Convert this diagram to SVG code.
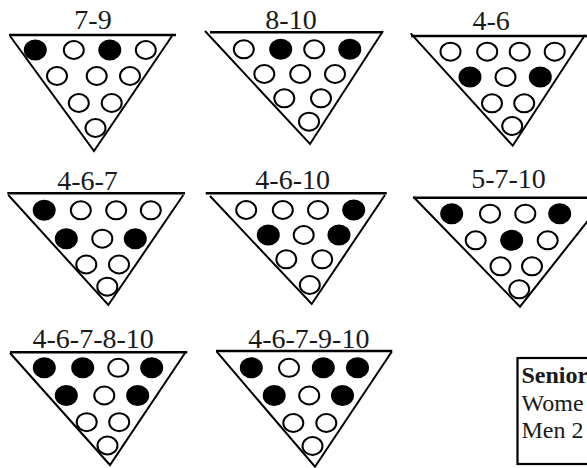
<svg xmlns="http://www.w3.org/2000/svg" width="587" height="468" viewBox="0 0 587 468">
<style>
.side{fill:none;stroke:#000;stroke-width:2;stroke-linejoin:miter}
.top{stroke:#000;stroke-width:2.4}
.o{fill:#fff;stroke:#000;stroke-width:2}
.f{fill:#000;stroke:#000;stroke-width:2}
.lbl{font-family:"Liberation Serif","Times New Roman",serif;font-size:28px;text-anchor:middle;fill:#1a1a1a}
.bx{font-family:"Liberation Serif","Times New Roman",serif;font-size:24px;fill:#1a1a1a}
</style>
<rect width="587" height="468" fill="#fff"/>
<g id="connectors"/>

<g id="t1">
<text class="lbl" x="93" y="29">7-9</text>
<line class="top" x1="9" y1="35" x2="176" y2="35"/>
<polyline class="side" points="10,36 94,151 172,36"/>
<ellipse class="f" cx="35.3" cy="50" rx="10.5" ry="9.5"/>
<ellipse class="o" cx="73.8" cy="50" rx="10" ry="9"/>
<ellipse class="f" cx="109.8" cy="50" rx="10.5" ry="9.5"/>
<ellipse class="o" cx="145.8" cy="50" rx="10" ry="9"/>
<ellipse class="o" cx="57" cy="76" rx="10" ry="9"/>
<ellipse class="o" cx="96.7" cy="76" rx="10" ry="9"/>
<ellipse class="o" cx="130" cy="76" rx="10" ry="9"/>
<ellipse class="o" cx="78.8" cy="103" rx="10" ry="9"/>
<ellipse class="o" cx="111.7" cy="103" rx="10" ry="9"/>
<ellipse class="o" cx="95.5" cy="128" rx="10" ry="9"/>
</g>

<g id="t2">
<text class="lbl" x="291" y="29">8-10</text>
<line class="top" x1="210" y1="32.3" x2="383" y2="32.3"/>
<polyline class="side" points="205,31 310,144 383,31"/>
<ellipse class="o" cx="243.8" cy="49.3" rx="10" ry="9"/>
<ellipse class="f" cx="280.7" cy="49.3" rx="10.5" ry="9.5"/>
<ellipse class="o" cx="314.2" cy="49.3" rx="10" ry="9"/>
<ellipse class="f" cx="349.8" cy="49.3" rx="10.5" ry="9.5"/>
<ellipse class="o" cx="264.3" cy="74" rx="10" ry="9"/>
<ellipse class="o" cx="300.2" cy="74" rx="10" ry="9"/>
<ellipse class="o" cx="335" cy="74" rx="10" ry="9"/>
<ellipse class="o" cx="284.3" cy="98.3" rx="10" ry="9"/>
<ellipse class="o" cx="321" cy="98.3" rx="10" ry="9"/>
<ellipse class="o" cx="309" cy="121.7" rx="10" ry="9"/>
</g>

<g id="t3">
<text class="lbl" x="491.2" y="30">4-6</text>
<line class="top" x1="411" y1="36" x2="587" y2="36"/>
<polyline class="side" points="410.7,33.3 512.7,145.7 585,35"/>
<ellipse class="o" cx="450.5" cy="51.7" rx="10" ry="9"/>
<ellipse class="o" cx="487.2" cy="51.7" rx="10" ry="9"/>
<ellipse class="o" cx="519.7" cy="51.7" rx="10" ry="9"/>
<ellipse class="o" cx="554.7" cy="51.7" rx="10" ry="9"/>
<ellipse class="f" cx="470" cy="77" rx="10.5" ry="9.5"/>
<ellipse class="o" cx="505.5" cy="77" rx="10" ry="9"/>
<ellipse class="f" cx="540.3" cy="77" rx="10.5" ry="9.5"/>
<ellipse class="o" cx="492" cy="103.3" rx="10" ry="9"/>
<ellipse class="o" cx="524.2" cy="103.3" rx="10" ry="9"/>
<ellipse class="o" cx="512.2" cy="126" rx="10" ry="9"/>
</g>

<g id="t4">
<text class="lbl" x="87.5" y="190">4-6-7</text>
<line class="top" x1="7.3" y1="193.3" x2="185" y2="193.3"/>
<polyline class="side" points="8.3,195 108.3,305 183.3,195"/>
<ellipse class="f" cx="44.2" cy="210.3" rx="10.5" ry="9.5"/>
<ellipse class="o" cx="80.8" cy="210.3" rx="10" ry="9"/>
<ellipse class="o" cx="116.2" cy="210.3" rx="10" ry="9"/>
<ellipse class="o" cx="150.8" cy="210.3" rx="10" ry="9"/>
<ellipse class="f" cx="66.3" cy="238.7" rx="10.5" ry="9.5"/>
<ellipse class="o" cx="102.3" cy="238.7" rx="10" ry="9"/>
<ellipse class="f" cx="135.3" cy="238.7" rx="10.5" ry="9.5"/>
<ellipse class="o" cx="86.3" cy="264.5" rx="10" ry="9"/>
<ellipse class="o" cx="119" cy="264.5" rx="10" ry="9"/>
<ellipse class="o" cx="107.3" cy="286.7" rx="10" ry="9"/>
</g>

<g id="t5">
<text class="lbl" x="292.7" y="189">4-6-10</text>
<line class="top" x1="205.7" y1="193.3" x2="386.7" y2="193.3"/>
<polyline class="side" points="210,196 311.7,304 385,195"/>
<ellipse class="o" cx="246.2" cy="210" rx="10" ry="9"/>
<ellipse class="o" cx="282.8" cy="210" rx="10" ry="9"/>
<ellipse class="o" cx="318" cy="210" rx="10" ry="9"/>
<ellipse class="f" cx="353.7" cy="210" rx="10.5" ry="9.5"/>
<ellipse class="f" cx="268.3" cy="235" rx="10.5" ry="9.5"/>
<ellipse class="o" cx="303.7" cy="235" rx="10" ry="9"/>
<ellipse class="f" cx="339" cy="235" rx="10.5" ry="9.5"/>
<ellipse class="o" cx="286.3" cy="259.3" rx="10" ry="9"/>
<ellipse class="o" cx="322.2" cy="259.3" rx="10" ry="9"/>
<ellipse class="o" cx="309.8" cy="285" rx="10" ry="9"/>
</g>

<g id="t6">
<text class="lbl" x="508.5" y="187.7">5-7-10</text>
<line class="top" x1="413.3" y1="197.7" x2="587" y2="197.7"/>
<polyline class="side" points="413.3,196.7 520,306.7 606,197.7"/>
<ellipse class="f" cx="451.7" cy="213.7" rx="10.5" ry="9.5"/>
<ellipse class="o" cx="490" cy="213.7" rx="10" ry="9"/>
<ellipse class="o" cx="525.3" cy="213.7" rx="10" ry="9"/>
<ellipse class="f" cx="559.7" cy="213.7" rx="10.5" ry="9.5"/>
<ellipse class="o" cx="475.7" cy="240.3" rx="10" ry="9"/>
<ellipse class="f" cx="511.7" cy="240.3" rx="10.5" ry="9.5"/>
<ellipse class="o" cx="547.7" cy="240.3" rx="10" ry="9"/>
<ellipse class="o" cx="500.5" cy="266.3" rx="10" ry="9"/>
<ellipse class="o" cx="532" cy="266.3" rx="10" ry="9"/>
<ellipse class="o" cx="519.2" cy="289.3" rx="10" ry="9"/>
</g>

<g id="t7">
<text class="lbl" x="93.2" y="348.3">4-6-7-8-10</text>
<line class="top" x1="10" y1="352.3" x2="187.3" y2="352.3"/>
<polyline class="side" points="10,353 110,465 185,353"/>
<ellipse class="f" cx="44.3" cy="367.8" rx="10.5" ry="9.5"/>
<ellipse class="f" cx="82.7" cy="367.8" rx="10.5" ry="9.5"/>
<ellipse class="o" cx="118.3" cy="367.8" rx="10" ry="9"/>
<ellipse class="f" cx="151.7" cy="367.8" rx="10.5" ry="9.5"/>
<ellipse class="f" cx="66.3" cy="395.5" rx="10.5" ry="9.5"/>
<ellipse class="o" cx="104.3" cy="395.5" rx="10" ry="9"/>
<ellipse class="f" cx="137.7" cy="395.5" rx="10.5" ry="9.5"/>
<ellipse class="o" cx="86.7" cy="422.2" rx="10" ry="9"/>
<ellipse class="o" cx="119.2" cy="422.2" rx="10" ry="9"/>
<ellipse class="o" cx="107.5" cy="445.5" rx="10" ry="9"/>
</g>

<g id="t8">
<text class="lbl" x="308.8" y="348.3">4-6-7-9-10</text>
<line class="top" x1="216" y1="351" x2="392.3" y2="351"/>
<polyline class="side" points="216.7,351.7 315,466.7 391.7,351.7"/>
<ellipse class="f" cx="251.3" cy="367.8" rx="10.5" ry="9.5"/>
<ellipse class="o" cx="289" cy="367.8" rx="10" ry="9"/>
<ellipse class="f" cx="323.3" cy="367.8" rx="10.5" ry="9.5"/>
<ellipse class="f" cx="357.5" cy="367.8" rx="10.5" ry="9.5"/>
<ellipse class="f" cx="274.2" cy="395.5" rx="10.5" ry="9.5"/>
<ellipse class="o" cx="309.2" cy="395.5" rx="10" ry="9"/>
<ellipse class="f" cx="342.5" cy="395.5" rx="10.5" ry="9.5"/>
<ellipse class="o" cx="293.3" cy="423" rx="10" ry="9"/>
<ellipse class="o" cx="326.3" cy="423" rx="10" ry="9"/>
<ellipse class="o" cx="312.5" cy="446" rx="10" ry="9"/>
</g>

<g id="legend">
<rect x="517.5" y="358" width="100" height="106" fill="#fff" stroke="#000" stroke-width="2.2"/>
<text class="bx" x="521.5" y="383" font-weight="bold">Senior</text>
<text class="bx" x="521.5" y="410.7">Wome</text>
<text class="bx" x="521.5" y="438.3">Men 2</text>
</g>
</svg>
